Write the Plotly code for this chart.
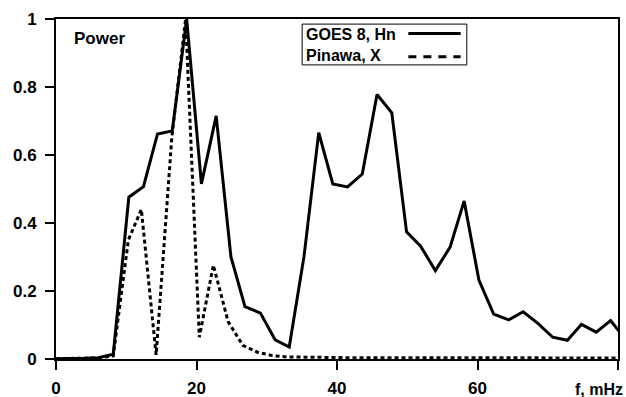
import plotly.graph_objects as go

# GOES 8, Hn (solid)
goes_f = [0.0, 1.9, 4.0, 6.05, 8.15, 10.37, 12.45, 14.45, 16.55, 18.6, 20.7, 22.8,
          24.9, 26.9, 29.1, 31.2, 33.2, 35.3, 37.4, 39.4, 41.5, 43.6, 45.7, 47.8,
          49.9, 51.9, 54.0, 56.1, 58.1, 60.2, 62.3, 64.45, 66.5, 68.6, 70.7, 72.8,
          74.8, 76.9, 78.95, 81.05]
goes_p = [0.001, 0.001, 0.002, 0.004, 0.014, 0.476, 0.507, 0.662, 0.671, 1.0, 0.515, 0.715,
          0.301, 0.154, 0.135, 0.056, 0.035, 0.301, 0.666, 0.515, 0.506, 0.544, 0.778, 0.724,
          0.374, 0.332, 0.26, 0.329, 0.465, 0.232, 0.132, 0.115, 0.139, 0.105, 0.064, 0.055,
          0.102, 0.079, 0.113, 0.058]

# Pinawa, X (dotted)
pin_f = [0.0, 1.9, 4.0, 6.05, 8.15, 10.3, 12.15, 14.25, 16.5, 18.45, 20.4, 22.4,
         24.5, 26.6, 28.7, 30.8, 32.9, 35.0, 37.1, 39.2, 41.3, 43.4, 45.5, 47.6,
         49.7, 51.8, 53.9, 56.0, 58.1, 60.2, 62.3, 64.4, 66.5, 68.6, 70.7, 72.8,
         74.9, 77.0, 79.1, 81.2]
pin_p = [0.001, 0.001, 0.002, 0.003, 0.009, 0.35, 0.44, 0.012, 0.655, 1.0, 0.064, 0.276,
         0.11, 0.04, 0.02, 0.01, 0.006, 0.005, 0.005, 0.004, 0.004, 0.004, 0.004, 0.004,
         0.004, 0.005, 0.004, 0.004, 0.003, 0.003, 0.003, 0.003, 0.003, 0.003, 0.003, 0.003,
         0.003, 0.003, 0.003, 0.003]

x_ticks = [0, 20, 40, 60, 80]
x_labels = ["0", "20", "40", "60", ""]
y_ticks = [0, 0.2, 0.4, 0.6, 0.8, 1.0]
y_labels = ["0", "0.2", "0.4", "0.6", "0.8", "1"]

FONT = "Liberation Sans, Arial, Helvetica, sans-serif"

fig = go.Figure()
fig.add_trace(go.Scatter(x=goes_f, y=goes_p, mode="lines", name="GOES 8, Hn",
                         line=dict(color="black", width=3)))
fig.add_trace(go.Scatter(x=pin_f, y=pin_p, mode="lines", name="Pinawa, X",
                         line=dict(color="black", width=3, dash="4px,3px")))

axis_common = dict(showgrid=False, zeroline=False, showline=True, linecolor="black",
                   linewidth=2, mirror=True, ticks="outside", ticklen=9, tickwidth=2,
                   tickcolor="black", automargin=False,
                   tickfont=dict(family=FONT, size=17, color="black", weight="bold"))

fig.update_xaxes(range=[0, 80], tickvals=x_ticks, ticktext=x_labels,
                 ticklabelstandoff=4, **axis_common)
fig.update_yaxes(range=[0, 1], tickvals=y_ticks, ticktext=y_labels,
                 ticklabelstandoff=5, **axis_common)

# custom legend (text left, sample line right)
fig.add_shape(type="rect", xref="paper", yref="paper", x0=0.438, x1=0.731, y0=0.865, y1=0.985,
              line=dict(color="black", width=1), fillcolor="white", layer="above")
fig.add_shape(type="line", xref="paper", yref="paper", x0=0.627, x1=0.72, y0=0.957, y1=0.957,
              line=dict(color="black", width=3), layer="above")
fig.add_shape(type="line", xref="paper", yref="paper", x0=0.627, x1=0.72, y0=0.889, y1=0.889,
              line=dict(color="black", width=3, dash="8px,7px"), layer="above")
fig.add_annotation(xref="paper", yref="paper", x=0.441, y=0.953, text="GOES 8, Hn",
                   showarrow=False, xanchor="left", yanchor="middle",
                   font=dict(family=FONT, size=16, color="black", weight="bold"))
fig.add_annotation(xref="paper", yref="paper", x=0.441, y=0.893, text="Pinawa, X",
                   showarrow=False, xanchor="left", yanchor="middle",
                   font=dict(family=FONT, size=16, color="black", weight="bold"))

fig.add_annotation(xref="paper", yref="paper", x=0.0285, y=0.943, text="Power",
                   showarrow=False, xanchor="left", yanchor="middle",
                   font=dict(family=FONT, size=17, color="black", weight="bold"))
fig.add_annotation(xref="paper", yref="paper", x=1.013, y=-0.09, text="f, mHz",
                   showarrow=False, xanchor="right", yanchor="middle",
                   font=dict(family=FONT, size=16, color="black", weight="bold"))

fig.update_layout(width=626, height=397, showlegend=False,
                  margin=dict(l=56, r=8, t=19, b=38),
                  paper_bgcolor="white", plot_bgcolor="white")

fig.write_html("out.html", config={"displayModeBar": False},
               post_script="document.body.style.margin='0';document.body.style.overflow='hidden';")
